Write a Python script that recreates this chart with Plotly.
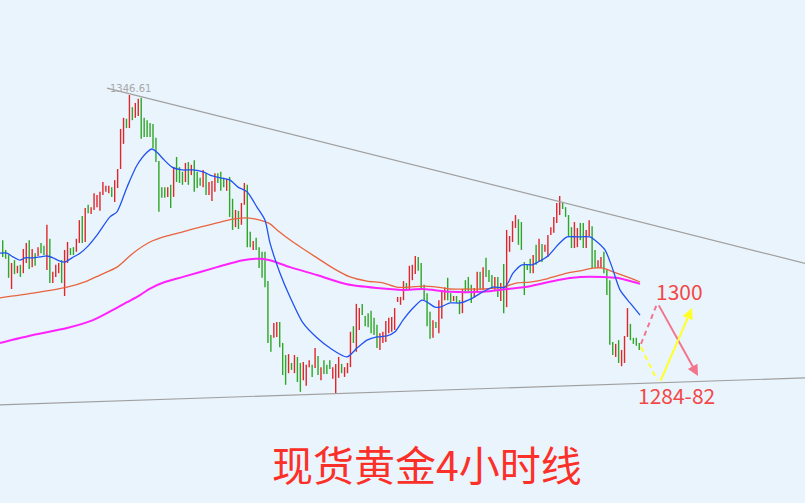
import plotly.graph_objects as go

# ---------------- data (4-hour spot gold bars) ----------------
highs = [
    1315.4, 1313.3, 1312.2, 1310.5, 1311.1, 1309.9, 1310.1, 1313.5, 1314.8, 1315.4,
    1313.5, 1312.6, 1313.9, 1314.8, 1314.2, 1318.7, 1315.7, 1308.6, 1310.1, 1310.5,
    1311.1, 1313.3, 1315.0, 1313.7, 1313.9, 1315.7, 1319.7, 1320.6, 1322.3, 1323.0,
    1322.5, 1325.5, 1325.1, 1325.8, 1327.9, 1327.1, 1327.1, 1326.8, 1328.3, 1330.7,
    1339.3, 1341.7, 1341.5, 1346.61, 1344.0, 1344.9, 1345.8, 1346.0, 1341.7, 1341.2,
    1340.6, 1340.4, 1337.4, 1332.4, 1326.8, 1326.8, 1326.8, 1327.3, 1331.1, 1333.3,
    1331.1, 1330.1, 1332.0, 1332.2, 1331.6, 1332.6, 1330.1, 1328.8, 1330.5, 1329.8,
    1327.9, 1328.1, 1329.8, 1329.8, 1330.1, 1328.8, 1328.6, 1329.0, 1324.3, 1321.9,
    1321.7, 1323.4, 1327.7, 1327.3, 1317.2, 1315.2, 1315.9, 1313.9, 1312.9, 1312.9,
    1306.6, 1295.0, 1297.6, 1297.8, 1297.8, 1293.3, 1290.7, 1290.9, 1289.0, 1290.7,
    1290.3, 1289.0, 1289.2, 1288.6, 1289.6, 1288.6, 1292.2, 1290.5, 1288.1, 1289.6,
    1288.6, 1289.6, 1288.1, 1288.8, 1290.3, 1288.8, 1288.1, 1289.0, 1295.7, 1296.9,
    1301.7, 1300.8, 1301.7, 1299.1, 1299.7, 1300.2, 1298.7, 1297.2, 1295.4, 1295.7,
    1298.0, 1298.7, 1298.9, 1300.8, 1303.2, 1303.2, 1306.6, 1306.2, 1309.9, 1310.1,
    1312.0, 1311.8, 1310.5, 1305.8, 1304.0, 1300.0, 1298.2, 1297.8, 1302.5, 1304.7,
    1305.3, 1307.3, 1304.0, 1303.4, 1303.4, 1302.5, 1304.9, 1306.8, 1307.5, 1305.8,
    1305.1, 1308.6, 1308.6, 1309.6, 1311.6, 1309.0, 1307.9, 1307.5, 1307.5, 1306.2,
    1310.3, 1317.6, 1316.3, 1319.5, 1320.8, 1319.9, 1319.3, 1310.7, 1310.3, 1311.4,
    1312.2, 1314.4, 1315.7, 1314.6, 1314.4, 1316.5, 1318.2, 1320.4, 1323.4, 1324.9,
    1323.4, 1322.5, 1320.8, 1318.2, 1319.3, 1318.0, 1319.1, 1319.1, 1317.6, 1319.7,
    1318.4, 1313.3, 1311.1, 1311.8, 1312.9, 1309.0, 1306.8, 1293.5, 1293.1, 1293.9,
    1291.8, 1294.8, 1300.8, 1297.4, 1294.4, 1294.4, 1293.3,
]
lows = [
    1311.8, 1311.4, 1307.3, 1304.9, 1308.1, 1308.3, 1307.5, 1308.3, 1310.5, 1309.2,
    1309.6, 1309.9, 1312.0, 1312.6, 1312.2, 1309.0, 1306.2, 1306.2, 1307.5, 1308.3,
    1306.2, 1303.4, 1310.5, 1312.2, 1312.2, 1312.9, 1314.8, 1314.8, 1315.0, 1321.2,
    1321.0, 1321.9, 1322.5, 1321.7, 1325.1, 1325.8, 1325.5, 1324.7, 1323.6, 1326.6,
    1330.7, 1336.1, 1339.5, 1339.5, 1341.2, 1341.7, 1342.1, 1337.2, 1337.6, 1337.6,
    1337.6, 1335.2, 1332.2, 1321.5, 1324.5, 1324.5, 1324.7, 1322.3, 1324.7, 1327.9,
    1327.7, 1327.3, 1327.9, 1327.3, 1329.4, 1325.8, 1326.6, 1327.1, 1326.8, 1325.1,
    1325.1, 1323.8, 1325.8, 1327.7, 1326.0, 1326.8, 1326.0, 1320.4, 1317.6, 1318.2,
    1317.8, 1318.7, 1323.0, 1313.9, 1313.9, 1313.3, 1313.3, 1309.4, 1307.3, 1305.3,
    1293.3, 1291.4, 1294.4, 1294.6, 1292.4, 1286.4, 1284.3, 1286.8, 1287.5, 1286.8,
    1284.9, 1282.8, 1285.3, 1284.1, 1288.1, 1286.0, 1287.9, 1286.4, 1285.3, 1286.6,
    1286.6, 1287.7, 1285.6, 1282.3, 1285.8, 1286.8, 1286.0, 1286.8, 1288.1, 1293.3,
    1291.4, 1296.1, 1299.3, 1296.9, 1296.7, 1295.4, 1295.0, 1292.2, 1291.8, 1293.3,
    1293.5, 1295.4, 1295.7, 1296.1, 1302.1, 1301.5, 1302.5, 1304.7, 1304.9, 1306.8,
    1308.1, 1308.8, 1304.7, 1302.5, 1296.9, 1294.2, 1294.4, 1296.5, 1295.4, 1298.5,
    1302.5, 1302.5, 1302.1, 1302.3, 1301.9, 1299.5, 1299.7, 1304.0, 1304.3, 1301.9,
    1303.2, 1304.3, 1304.7, 1304.7, 1307.5, 1306.4, 1305.3, 1304.5, 1303.2, 1302.3,
    1299.7, 1301.0, 1312.9, 1315.0, 1318.0, 1314.4, 1313.3, 1303.6, 1309.0, 1308.3,
    1308.3, 1310.1, 1310.7, 1310.7, 1312.9, 1311.8, 1316.5, 1317.0, 1319.1, 1320.8,
    1322.1, 1320.4, 1316.1, 1313.7, 1313.7, 1313.9, 1315.4, 1313.7, 1313.7, 1316.3,
    1309.4, 1309.4, 1309.4, 1309.4, 1308.3, 1303.6, 1292.9, 1290.7, 1290.3, 1289.0,
    1288.3, 1289.0, 1294.6, 1293.9, 1293.1, 1292.7, 1291.8,
]
# R = rising bar (red), G = falling bar (green)
directions = list(
    "GGGRGRGRRG" "RGRGGRGRRR" "GRRGGRRGRG" "RRRRRRRGRR" "RRGRGRRGGG"
    "GGGGGGRGRG" "GGRGRGGGRG" "RRRGGGRGGR" "GRRGGRGGGG" "GGRRGGGRGR"
    "GGRRRGRGRG" "GGRRRGRRRG" "RRGGGGGGRR" "RRRRRRRGRR" "RGGGGGRGRR"
    "RGGRGGRGGG" "RRGRGGGRGR" "GRRRRGGGGG" "RGRGRRRRRR" "GGGGRRGGRR"
    "GGRRGGGGRG" "RRRGGGG"
)
assert len(highs) == len(lows) == len(directions)
bar_index = list(range(len(highs)))

# moving averages (bar index, price)
ma_fast_x = [-0.92, 1.46, 3.5, 5.87, 7.57, 10.28, 12.66, 15.03, 17.07, 19.44, 21.14, 23.52,
             26.23, 28.6, 32.0, 36.4, 38.78, 42.18, 45.57, 48.97, 50.66, 52.36, 54.4, 57.45,
             60.84, 64.57, 67.97, 70.34, 73.74, 77.13, 79.84, 82.9, 86.29, 89.0, 90.7, 94.1,
             97.49, 101.9, 106.65, 111.06, 116.83, 120.22, 123.62, 127.01, 130.4, 133.12,
             135.83, 139.23, 142.28, 143.98, 146.69, 148.39, 151.78, 155.18, 159.25, 162.98,
             166.37, 170.44, 173.16, 176.21, 179.6, 181.64, 185.03, 188.43, 191.48, 194.88,
             199.29, 200.98, 204.38, 206.76, 209.47, 212.87, 216.26]
ma_fast_y = [1312.6, 1312.6, 1311.8, 1311.1, 1311.6, 1311.6, 1311.8, 1312.0, 1311.6, 1310.9,
             1310.7, 1311.6, 1312.6, 1313.9, 1316.5, 1320.4, 1321.5, 1326.8, 1331.5, 1334.3,
             1335.0, 1334.3, 1332.9, 1331.1, 1330.5, 1330.5, 1330.1, 1329.4, 1328.8, 1328.3,
             1326.8, 1325.8, 1322.5, 1319.7, 1314.8, 1308.3, 1303.2, 1297.6, 1294.4, 1292.2,
             1290.3, 1292.2, 1293.9, 1294.6, 1294.8, 1295.7, 1298.2, 1300.8, 1302.5, 1302.1,
             1301.0, 1301.0, 1301.9, 1301.9, 1302.9, 1304.3, 1305.3, 1305.3, 1308.3, 1310.1,
             1310.1, 1310.7, 1312.0, 1314.4, 1316.1, 1316.1, 1316.1, 1315.4, 1313.3, 1309.6,
             1304.7, 1301.9, 1299.3]
ma_mid_x = [-0.92, 10.28, 21.82, 28.6, 33.02, 38.78, 44.21, 49.98, 55.75, 61.18, 66.95, 72.72,
            78.15, 82.9, 87.31, 90.7, 93.08, 98.51, 106.65, 112.08, 117.85, 123.62, 129.05,
            133.8, 138.21, 142.62, 147.37, 151.78, 157.55, 162.98, 169.77, 174.52, 178.93,
            184.69, 191.48, 195.89, 200.3, 203.7, 207.09, 211.84, 216.26]
ma_mid_y = [1303.0, 1304.0, 1305.3, 1306.6, 1307.9, 1309.6, 1312.6, 1315.0, 1316.3, 1317.2,
            1318.2, 1319.1, 1319.9, 1320.2, 1319.7, 1318.9, 1317.6, 1315.0, 1311.6, 1309.4,
            1307.5, 1306.6, 1306.2, 1305.3, 1305.3, 1305.5, 1305.3, 1304.9, 1304.9, 1304.9,
            1305.3, 1306.2, 1306.4, 1307.1, 1308.3, 1308.8, 1309.4, 1309.4, 1308.6, 1307.5,
            1306.4]
ma_slow_x = [-0.92, 10.28, 21.82, 30.64, 37.43, 42.0, 46.59, 49.98, 55.0, 61.18, 72.72, 81.54,
             87.31, 90.7, 97.49, 106.65, 116.83, 127.01, 135.83, 142.62, 151.78, 162.98,
             171.13, 178.93, 188.09, 195.89, 203.7, 208.45, 216.26]
ma_slow_y = [1293.3, 1295.0, 1296.5, 1298.2, 1300.4, 1302.0, 1303.6, 1305.0, 1306.4, 1307.5,
             1309.6, 1311.1, 1311.4, 1311.1, 1309.6, 1307.9, 1305.9, 1305.1, 1304.7, 1304.9,
             1304.3, 1304.3, 1304.9, 1305.5, 1306.8, 1307.5, 1307.5, 1307.3, 1306.0]

# trend lines drawn by the analyst (bar index, price)
upper_trend_x = [35.39, 272.4]
upper_trend_y = [1348.1, 1310.4]
lower_trend_x = [-1.0, 272.4]
lower_trend_y = [1280.0, 1285.8]

# forecast paths
pink_dash_x = [216.59, 222.02]
pink_dash_y = [1293.1, 1301.7]
pink_arrow = dict(tail=(222.36, 1301.7), head=(235.94, 1286.2))
yellow_dash_x = [216.59, 222.02]
yellow_dash_y = [1292.4, 1285.3]
yellow_arrow = dict(tail=(223.04, 1284.9), head=(233.9, 1300.8))

peak_label = "1346.61"
peak_pos = (43.2, 1348.1)
target_up_label = "1300"
target_up_pos = (229.8, 1304.5)
target_dn_label = "1284-82"
target_dn_pos = (228.8, 1282.1)
title_text = "现货黄金4小时线"

# ---------------- figure ----------------
BG = "#eaf4fc"
UP = "#e0262a"
DN = "#2ea626"
PINK = "#f2758e"
YEL = "#ffff2a"

opens = [lo if d == "R" else hi for hi, lo, d in zip(highs, lows, directions)]
closes = [hi if d == "R" else lo for hi, lo, d in zip(highs, lows, directions)]

fig = go.Figure()

fig.add_trace(go.Scatter(x=lower_trend_x, y=lower_trend_y, mode="lines",
                         line=dict(color="#a0a0a0", width=1.2), hoverinfo="skip"))
fig.add_trace(go.Scatter(x=upper_trend_x, y=upper_trend_y, mode="lines",
                         line=dict(color="#a0a0a0", width=1.2), hoverinfo="skip"))

fig.add_trace(go.Ohlc(
    x=bar_index, open=opens, high=highs, low=lows, close=closes,
    increasing=dict(line=dict(color=UP, width=1.4)),
    decreasing=dict(line=dict(color=DN, width=1.4)),
    tickwidth=0, hoverinfo="skip",
))

fig.add_trace(go.Scatter(x=ma_slow_x, y=ma_slow_y, mode="lines",
                         line=dict(color="#ff22ff", width=2, shape="spline", smoothing=0.7),
                         hoverinfo="skip"))
fig.add_trace(go.Scatter(x=ma_mid_x, y=ma_mid_y, mode="lines",
                         line=dict(color="#e8643e", width=1.3, shape="spline", smoothing=0.7),
                         hoverinfo="skip"))
fig.add_trace(go.Scatter(x=ma_fast_x, y=ma_fast_y, mode="lines",
                         line=dict(color="#2152f2", width=1.3, shape="spline", smoothing=0.7),
                         hoverinfo="skip"))

fig.add_trace(go.Scatter(x=pink_dash_x, y=pink_dash_y, mode="lines",
                         line=dict(color=PINK, width=2, dash="5px,4px"), hoverinfo="skip"))
fig.add_trace(go.Scatter(x=yellow_dash_x, y=yellow_dash_y, mode="lines",
                         line=dict(color=YEL, width=2, dash="5px,4px"), hoverinfo="skip"))

for arr, col in ((pink_arrow, PINK), (yellow_arrow, YEL)):
    fig.add_annotation(x=arr["head"][0], y=arr["head"][1], ax=arr["tail"][0], ay=arr["tail"][1],
                       xref="x", yref="y", axref="x", ayref="y", text="", showarrow=True,
                       arrowhead=2, arrowsize=1.1, arrowwidth=2, arrowcolor=col, standoff=0)

fig.add_annotation(x=peak_pos[0], y=peak_pos[1], text=peak_label, showarrow=False,
                   font=dict(family="DejaVu Sans", size=10, color="#a8a8a8"))
fig.add_annotation(x=target_up_pos[0], y=target_up_pos[1], text=target_up_label, showarrow=False,
                   font=dict(family="Noto Sans CJK SC", size=21, color="#f24848"))
fig.add_annotation(x=target_dn_pos[0], y=target_dn_pos[1], text=target_dn_label, showarrow=False,
                   font=dict(family="Noto Sans CJK SC", size=21, color="#f24848"))
fig.add_annotation(x=0.5305, y=1 - 463 / 503, xref="paper", yref="paper", text=title_text,
                   showarrow=False, xanchor="center", yanchor="middle",
                   font=dict(family="Noto Sans CJK SC", size=41, color="#fb3029"))

fig.update_layout(
    width=805, height=503,
    margin=dict(l=0, r=0, t=0, b=0),
    paper_bgcolor=BG, plot_bgcolor=BG,
    showlegend=False,
    xaxis=dict(range=[-0.916, 272.24], visible=False, rangeslider=dict(visible=False),
               fixedrange=True),
    yaxis=dict(range=[1258.89, 1367.035], visible=False, fixedrange=True),
)

fig.write_html(
    "out.html",
    config={"displayModeBar": False},
    post_script="document.body.style.margin='0';document.body.style.overflow='hidden';"
                "document.body.style.background='" + BG + "';",
)
